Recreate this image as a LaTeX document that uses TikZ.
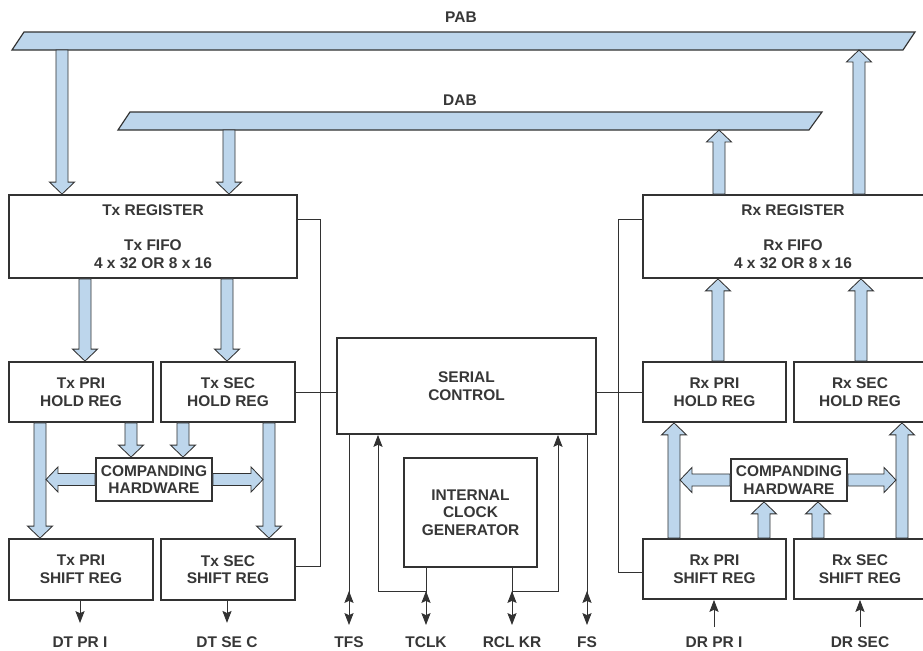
\documentclass[tikz,border=0pt]{standalone}
\usepackage{fontspec}
\setmainfont{Liberation Sans}
\usetikzlibrary{arrows.meta,calc}
\definecolor{busblue}{RGB}{189,214,236}
\definecolor{linegray}{RGB}{50,50,50}
\definecolor{textgray}{RGB}{55,55,55}

\newcommand{\fatarrow}[2]{%
  \coordinate (fa) at (#1);
  \coordinate (fb) at (#2);
  \coordinate (fn) at ($(fb)!8.5pt!(fa)$);
  \filldraw[fat] ($(fa)!4.3pt!90:(fb)$) -- ($(fn)!4.3pt!90:(fb)$) -- ($(fn)!8.9pt!90:(fb)$) -- (fb)
    -- ($(fn)!8.9pt!-90:(fb)$) -- ($(fn)!4.3pt!-90:(fb)$) -- ($(fa)!4.3pt!-90:(fb)$) -- cycle;}

\begin{document}
\begin{tikzpicture}[x=0.025cm, y=-0.025cm,
    box/.style={draw=linegray, line width=1.3pt, fill=white, align=center, text=textgray,
        font=\fontsize{11}{12.5}\selectfont\bfseries, inner sep=0pt},
    lbl/.style={text=textgray, font=\fontsize{11}{12.5}\selectfont\bfseries, inner sep=2pt},
    bus/.style={draw=linegray, line width=0.8pt, fill=busblue},
    fat/.style={draw=linegray, line width=0.6pt, fill=busblue},
    wire/.style={draw=linegray, line width=0.6pt},
    sig/.style={wire, -{Stealth[length=8.5pt,width=6.5pt,inset=1.5pt]}}]
    \useasboundingbox (0,0) rectangle (923,651);
    \clip (0,0) rectangle (923,651);

    \draw[bus] (12,50) -- (24,32) -- (915,32) -- (903,50) -- cycle;
    \draw[bus] (118,130) -- (130,112) -- (822,112) -- (809,130) -- cycle;
    \coordinate (pab) at (12,50);
    \coordinate (dab) at (118,130);
    \node[lbl] (pablbl) at (461,17) {PAB};
    \node[lbl] (dablbl) at (460,100) {DAB};

    \node[box, minimum width=7.2cm, minimum height=2.075cm] (txreg) at (153,236.5)
        {Tx REGISTER\\[12.5pt]Tx FIFO\\4 x 32 OR 8 x 16};
    \node[box, minimum width=3.6cm, minimum height=1.5cm] (txprihold) at (81,392) {Tx PRI\\HOLD REG};
    \node[box, minimum width=3.35cm, minimum height=1.5cm] (txsechold) at (228,392) {Tx SEC\\HOLD REG};
    \node[box, minimum width=2.9cm, minimum height=1.075cm] (txcomp) at (154,479.5) {COMPANDING\\HARDWARE};
    \node[box, minimum width=3.6cm, minimum height=1.525cm] (txprishift) at (81,569.5) {Tx PRI\\SHIFT REG};
    \node[box, minimum width=3.35cm, minimum height=1.525cm] (txsecshift) at (228,569.5) {Tx SEC\\SHIFT REG};

    \node[box, minimum width=6.475cm, minimum height=2.4cm] (serial) at (466.5,386) {SERIAL\\CONTROL};
    \node[box, minimum width=3.325cm, minimum height=2.725cm] (clock) at (470.5,512.5)
        {INTERNAL\\CLOCK\\GENERATOR};

    \node[box, minimum width=7.5cm, minimum height=2.075cm] (rxreg) at (793,236.5)
        {Rx REGISTER\\[12.5pt]Rx FIFO\\4 x 32 OR 8 x 16};
    \node[box, minimum width=3.575cm, minimum height=1.5cm] (rxprihold) at (714.5,392) {Rx PRI\\HOLD REG};
    \node[box, minimum width=3.3cm, minimum height=1.5cm] (rxsechold) at (860,392) {Rx SEC\\HOLD REG};
    \node[box, minimum width=2.9cm, minimum height=1.05cm] (rxcomp) at (789,480) {COMPANDING\\HARDWARE};
    \node[box, minimum width=3.575cm, minimum height=1.5cm] (rxprishift) at (714.5,569) {Rx PRI\\SHIFT REG};
    \node[box, minimum width=3.3cm, minimum height=1.5cm] (rxsecshift) at (860,569) {Rx SEC\\SHIFT REG};

    \fatarrow{62,0 |- pab}{62,0 |- txreg.north}
    \fatarrow{229,0 |- dab}{229,0 |- txreg.north}
    \fatarrow{85,0 |- txreg.south}{85,0 |- txprihold.north}
    \fatarrow{227,0 |- txreg.south}{227,0 |- txsechold.north}
    \fatarrow{40,0 |- txprihold.south}{40,0 |- txprishift.north}
    \fatarrow{131,0 |- txprihold.south}{131,0 |- txcomp.north}
    \fatarrow{183,0 |- txsechold.south}{183,0 |- txcomp.north}
    \fatarrow{269,0 |- txsechold.south}{269,0 |- txsecshift.north}
    \fatarrow{txcomp.west}{46,0 |- txcomp.west}
    \fatarrow{txcomp.east}{263,0 |- txcomp.east}

    \fatarrow{719,0 |- rxreg.north}{719,0 |- dab}
    \fatarrow{859,0 |- rxreg.north}{859,0 |- pab}
    \fatarrow{718,0 |- rxprihold.north}{718,0 |- rxreg.south}
    \fatarrow{861,0 |- rxsechold.north}{861,0 |- rxreg.south}
    \fatarrow{674,0 |- rxprishift.north}{674,0 |- rxprihold.south}
    \fatarrow{902,0 |- rxsecshift.north}{902,0 |- rxsechold.south}
    \fatarrow{764,0 |- rxprishift.north}{764,0 |- rxcomp.south}
    \fatarrow{818,0 |- rxsecshift.north}{818,0 |- rxcomp.south}
    \fatarrow{rxcomp.west}{680,0 |- rxcomp.west}
    \fatarrow{rxcomp.east}{896,0 |- rxcomp.east}

    \draw[wire] (txreg.east |- 0,219) -| (320,566) -- (txsecshift.east |- 0,566);
    \draw[wire] (txsechold.east) -- (serial.west |- txsechold.east);
    \draw[wire] (rxreg.west |- 0,219) -| (618,572) -- (rxprishift.west |- 0,572);
    \draw[wire] (serial.east |- rxprihold.west) -- (rxprihold.west);

    \node[lbl] (dtpri) at (80,642) {DT PR I};
    \node[lbl] (dtsec) at (227,642) {DT SE C};
    \node[lbl] (tfs) at (349,642) {TFS};
    \node[lbl] (tclk) at (426,642) {TCLK};
    \node[lbl] (rclkr) at (512,642) {RCL KR};
    \node[lbl] (fs) at (587,642) {FS};
    \node[lbl] (drpri) at (714,642) {DR PR I};
    \node[lbl] (drsec) at (860,642) {DR SEC};

    \draw[sig, shorten >=7.5pt] (dtpri |- txprishift.south) -- (dtpri.north);
    \draw[sig, shorten >=7.5pt] (dtsec |- txsecshift.south) -- (dtsec.north);
    \draw[sig, shorten <=4.6pt] (drpri.north) -- (drpri |- rxprishift.south);
    \draw[sig, shorten <=4.6pt] (drsec.north) -- (drsec |- rxsecshift.south);

    \draw[sig, shorten >=6pt] (tfs |- serial.south) -- (tfs.north);
    \draw[sig] (349,608) -- (349,591);
    \draw[sig, shorten >=6pt] (tclk |- clock.south) -- (tclk.north);
    \draw[sig] (426,608) -- (426,591);
    \draw[sig] (426,591) -| (378,0 |- serial.south);
    \draw[sig, shorten >=6pt] (rclkr |- clock.south) -- (rclkr.north);
    \draw[sig] (512,608) -- (512,591);
    \draw[sig] (512,591) -| (558,0 |- serial.south);
    \draw[sig, shorten >=6pt] (fs |- serial.south) -- (fs.north);
    \draw[sig] (587,608) -- (587,591);
\end{tikzpicture}
\end{document}
